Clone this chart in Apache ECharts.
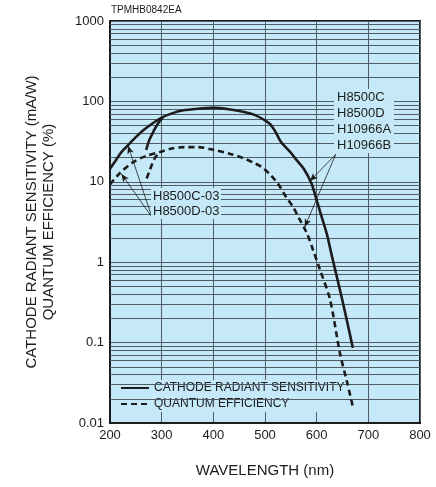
<!DOCTYPE html>
<html><head><meta charset="utf-8">
<script src="https://cdn.jsdelivr.net/npm/echarts@6/dist/echarts.min.js"></script>
<style>html,body{margin:0;padding:0;background:#fff}#c{width:436px;height:487px}</style>
</head><body><div id="c"></div>
<script>
// ---- data ----
const sensWl  = [200,210,220,230,240,250,265,280,300,320,340,370,400,430,460,480,500,510,520,530,540,550,560,575,590,600,610,620,630,640,650,660,670];
const sensVal = [14.5,18,22.5,26.5,31,36,44,52,63,71,77,81,83,80,74,68,58,52,42,32,27,23,19,14.5,9.5,5.9,3.6,2.2,1.15,0.62,0.33,0.17,0.086];
const sensBranchWl  = [270,276,283,292,302];
const sensBranchVal = [25,33,41,52,63];
const qeWl  = [200,220,245,270,297,320,345,370,400,430,457,480,496,510,520,530,540,554,566,581,593,606,626,645,659,670];
const qeVal = [9.3,13,17.6,21,23.5,26,27,27,25,22.5,19.8,17,14.9,12.3,10.4,8.5,6.6,4.9,3.5,2.3,1.42,0.82,0.34,0.074,0.032,0.016];
const qeBranchWl  = [271,277,287,297];
const qeBranchVal = [11,14,19.8,23.5];
const xTicks = [200,300,400,500,600,700,800];
const yDecades = [0.01,0.1,1,10,100,1000];
const legendNames = ['CATHODE RADIANT SENSITIVITY','QUANTUM EFFICIENCY'];
const leftLabel = ['H8500C-03','H8500D-03'];
const rightLabel = ['H8500C','H8500D','H10966A','H10966B'];
// arrows: [from, to] in data coords
const arrows = [
  [[281,3.65],[235,28]],
  [[281,3.65],[222,12.5]],
  [[637,22],[587,10.2]],
  [[637,22],[577,2.75]]
];

const zip = (a,b) => a.map((x,i)=>[x,b[i]]);
const minorVals = [];
for (let d = 0; d < yDecades.length-1; d++) for (let m = 2; m <= 9; m++) minorVals.push(+(m*yDecades[d]).toPrecision(3));

const FONT = 'Liberation Sans, Arial, Helvetica, sans-serif';
const BG = '#c6e9f9';
const GRID = '#505c64';
const INK = '#1c1c1c';

const chart = echarts.init(document.getElementById('c'), null, {renderer:'canvas'});
chart.setOption({
  animation: false,
  textStyle: {fontFamily: FONT, color: INK},
  grid: {left:110, right:16, top:21, bottom:64, show:true, backgroundColor:BG, borderColor:INK, borderWidth:2},
  xAxis: {
    type:'value', min:200, max:800, interval:100,
    name:'WAVELENGTH (nm)', nameLocation:'middle', nameGap:40,
    nameTextStyle:{fontSize:15, color:INK, fontFamily:FONT},
    axisLine:{show:true, lineStyle:{color:INK, width:2}},
    axisTick:{show:false},
    axisLabel:{fontSize:13, color:INK, margin:6, fontFamily:FONT},
    splitLine:{show:true, lineStyle:{color:GRID, width:1}}
  },
  yAxis: {
    type:'log', logBase:10, min:0.01, max:1000,
    name:'CATHODE RADIANT SENSITIVITY (mA/W)\nQUANTUM EFFICIENCY (%)',
    nameLocation:'middle', nameGap:53, nameRotate:90,
    nameTextStyle:{fontSize:15, color:INK, fontFamily:FONT, lineHeight:17, align:'center'},
    axisLine:{show:true, lineStyle:{color:INK, width:2}},
    axisTick:{show:false},
    axisLabel:{fontSize:13, color:INK, margin:6, fontFamily:FONT,
      formatter: v => String(+(+v).toPrecision(3))},
    splitLine:{show:true, lineStyle:{color:GRID, width:1}}
  },
  legend: {
    data: legendNames, orient:'vertical', left:117, top:380,
    itemWidth:28, itemHeight:12, itemGap:4, padding:[2,3,2,3],
    backgroundColor:BG, selectedMode:false,
    itemStyle:{opacity:0, color:'transparent', borderWidth:0},
    textStyle:{fontSize:12, color:INK, fontFamily:FONT}
  },
  series: [
    { type:'line', name:'minor', data:[[200,1]], symbol:'none', lineStyle:{opacity:0}, silent:true, z:1,
      markLine:{silent:true, symbol:'none', label:{show:false}, animation:false,
        lineStyle:{color:GRID, width:1, type:'solid'},
        emphasis:{disabled:true},
        data: minorVals.map(v=>({yAxis:v}))}},
    { type:'line', name:legendNames[0], data:zip(sensWl,sensVal), smooth:0.3, symbol:'none', z:6,
      lineStyle:{color:INK, width:2.6, type:'solid'}, itemStyle:{color:INK} },
    { type:'line', name:'branchSens', data:zip(sensBranchWl,sensBranchVal), smooth:0.3, symbol:'none', z:6,
      lineStyle:{color:INK, width:2.6, type:'solid'} },
    { type:'line', name:legendNames[1], data:zip(qeWl,qeVal), smooth:0.3, symbol:'none', z:6,
      lineStyle:{color:INK, width:2.6, type:[6,4]}, itemStyle:{color:INK} },
    { type:'line', name:'branchQE', data:zip(qeBranchWl,qeBranchVal), smooth:0.3, symbol:'none', z:6,
      lineStyle:{color:INK, width:2.6, type:[6,4]} },
    { type:'line', name:'arrows', data:[[200,1]], symbol:'none', lineStyle:{opacity:0}, silent:true, z:7,
      markLine:{silent:true, symbol:['none','arrow'], symbolSize:[5,8], label:{show:false}, animation:false,
        lineStyle:{color:INK, width:0.8, type:'solid'},
        emphasis:{disabled:true},
        data: arrows.map(a=>[{coord:a[0]},{coord:a[1]}])}}
  ],
  graphic: [
    {type:'text', left:111, top:5, z:50, style:{text:'TPMHB0842EA', font:'10px '+FONT, fill:INK}},
    {type:'rect', shape:{x:151, y:188, width:70, height:31}, style:{fill:BG}, z:50},
    {type:'text', x:153, y:196, z:51, style:{text:leftLabel[0], font:'13px '+FONT, fill:INK, verticalAlign:'middle'}},
    {type:'text', x:153, y:211, z:51, style:{text:leftLabel[1], font:'13px '+FONT, fill:INK, verticalAlign:'middle'}},
    {type:'rect', shape:{x:334, y:89, width:60, height:64}, style:{fill:BG}, z:50},
    ...rightLabel.map((t,i)=>({type:'text', x:337, y:97+i*16, z:51, style:{text:t, font:'13px '+FONT, fill:INK, verticalAlign:'middle'}}))
  ]
});
</script></body></html>
